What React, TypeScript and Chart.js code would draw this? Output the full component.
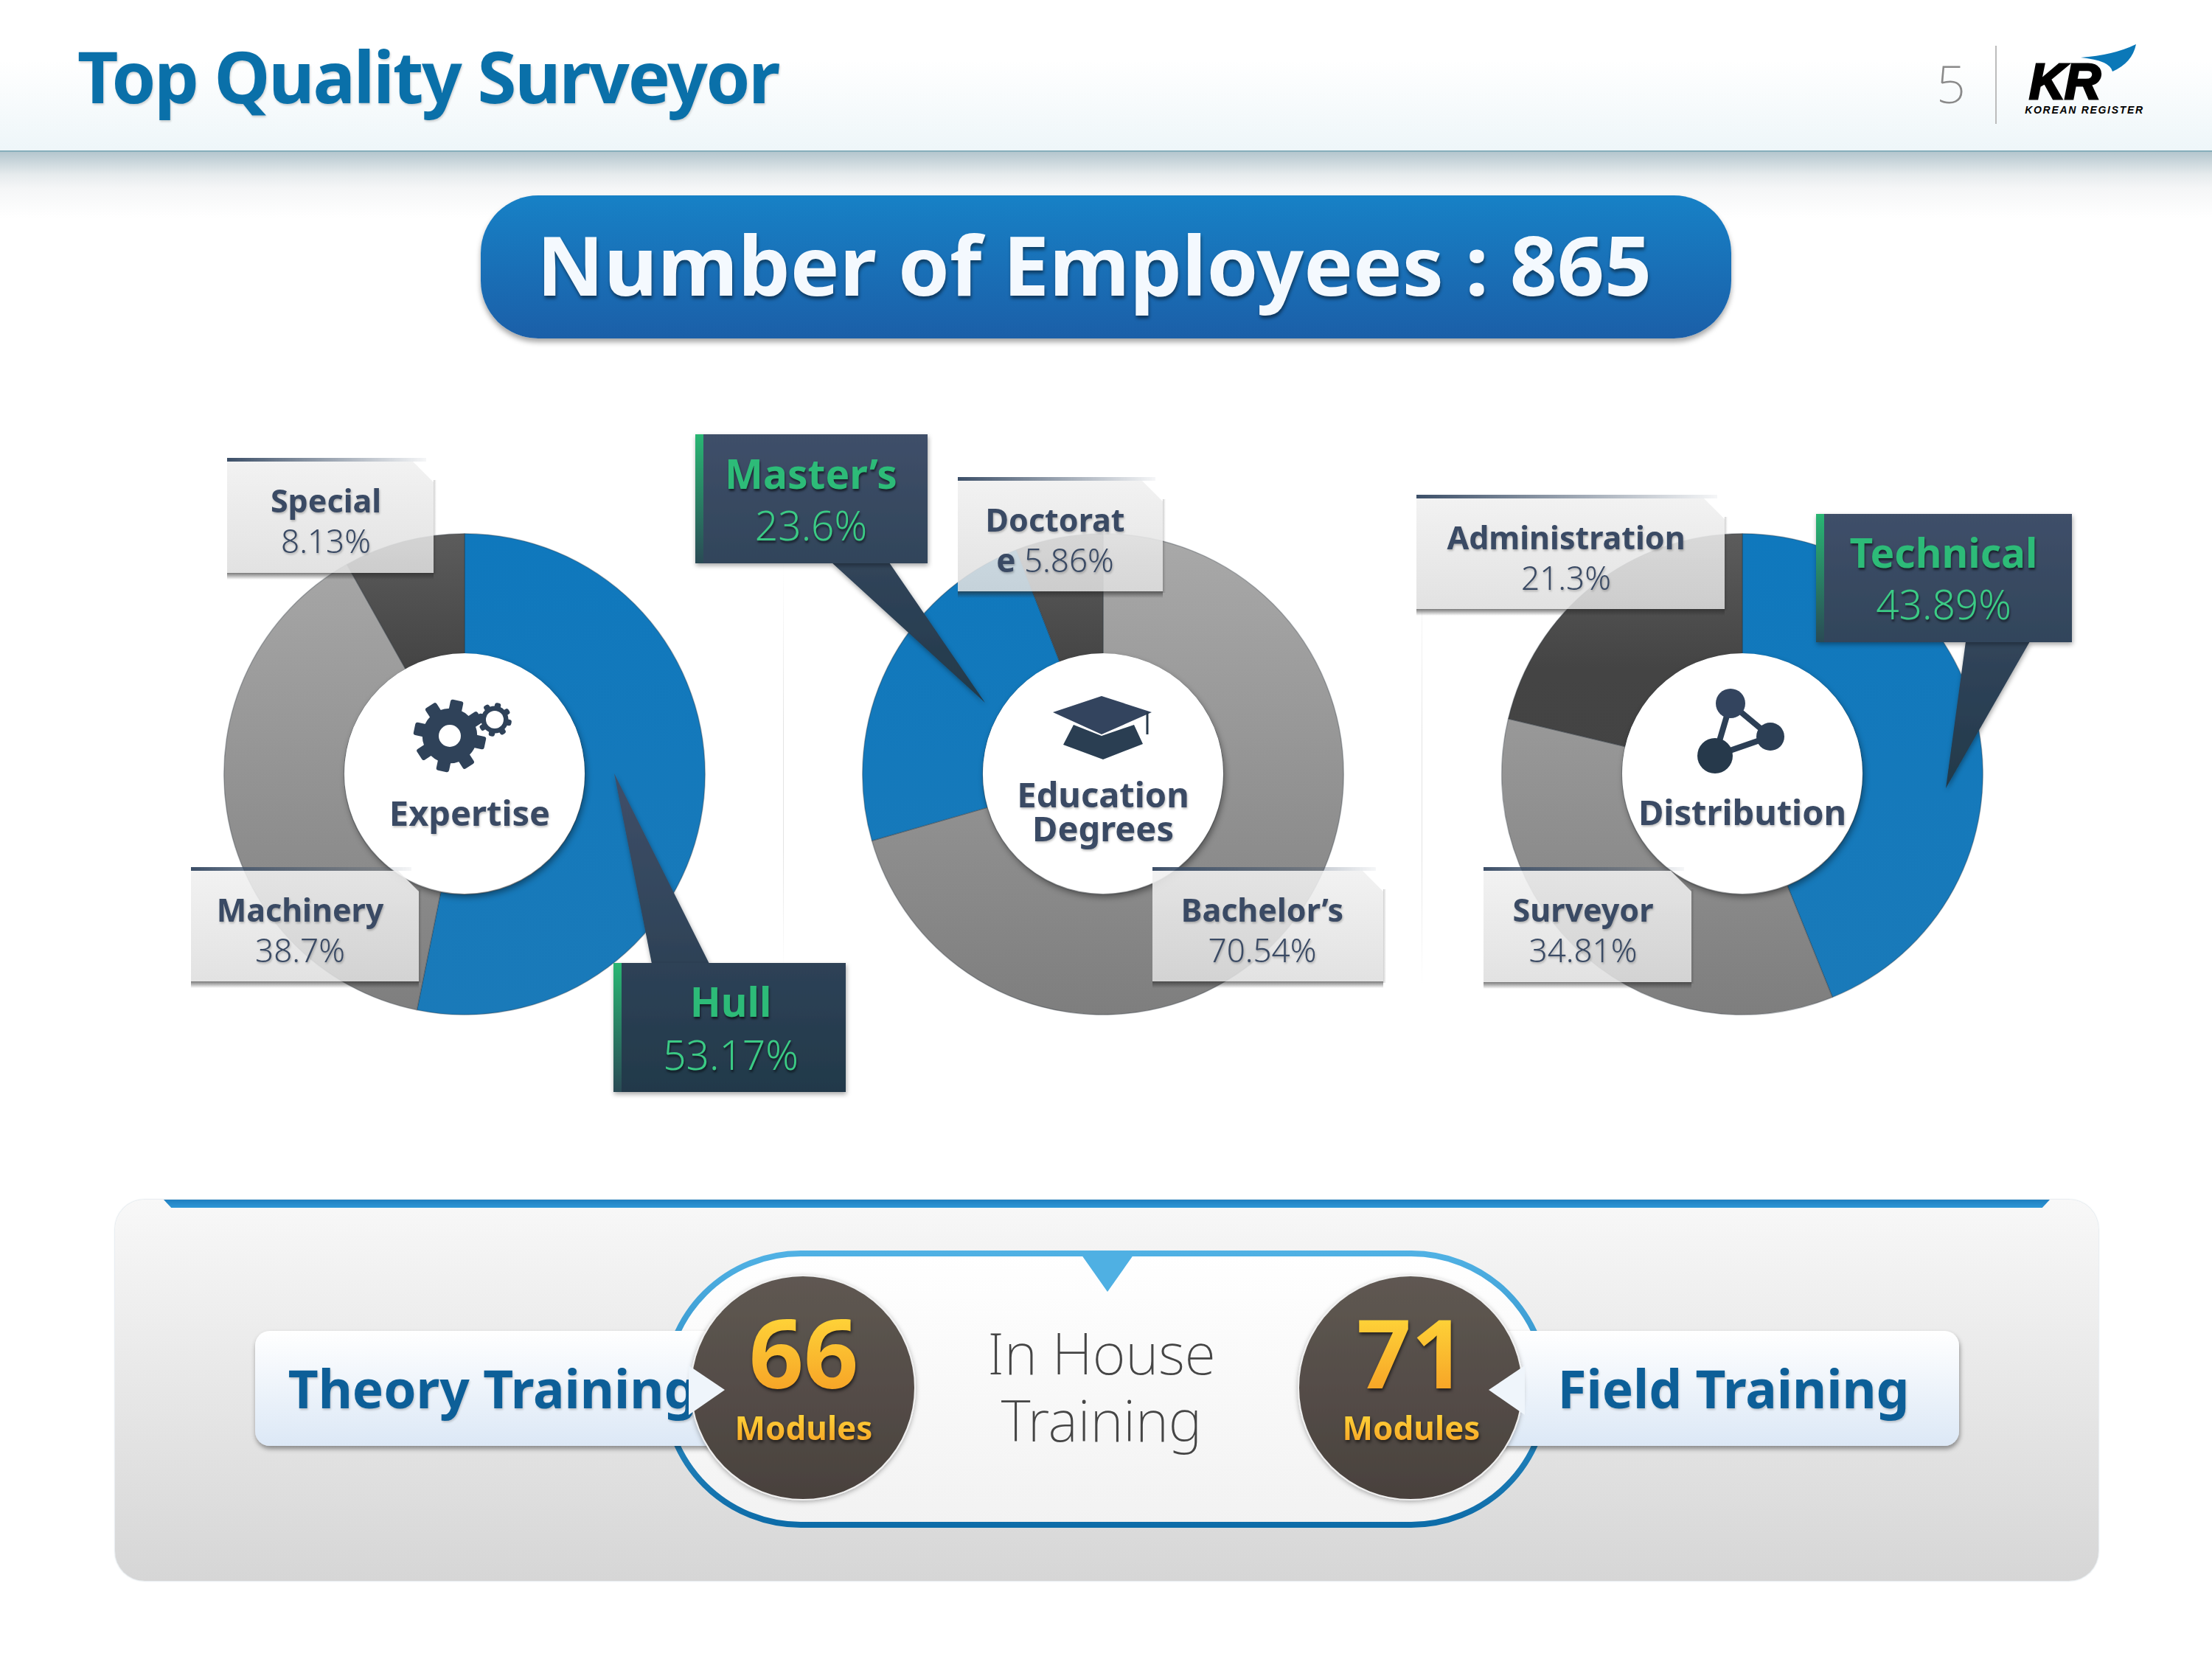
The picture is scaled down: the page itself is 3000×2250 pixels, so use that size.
import React, { useEffect, useRef } from "react";
import { Chart, registerables } from "chart.js";

Chart.register(...registerables);

const expertiseLabels = ["Hull", "Machinery", "Special"];
const expertiseValues = [53.17, 38.7, 8.13];
const educationLabels = ["Bachelor’s", "Master’s", "Doctorate"];
const educationValues = [70.54, 23.6, 5.86];
const distributionLabels = ["Technical", "Surveyor", "Administration"];
const distributionValues = [43.89, 34.81, 21.3];
const theoryModules = 66;
const fieldModules = 71;
const employees = 865;

const SANS = '"Noto Sans", "Open Sans", sans-serif';
const NAVY = "#3a4a64";
const GREEN = "#2dbb78";
const GREEN_LIGHT = "#3bcb85";

type Kind = "blue" | "grey" | "dark";

function Donut({ cx, cy, labels, values, kinds }: { cx: number; cy: number; labels: string[]; values: number[]; kinds: Kind[] }) {
  const ref = useRef<HTMLCanvasElement>(null);
  useEffect(() => {
    const canvas = ref.current!;
    const ctx = canvas.getContext("2d")!;
    const grad = (stops: [number, string][], h = 654) => {
      const g = ctx.createLinearGradient(0, 0, 0, h);
      stops.forEach(([o, c]) => g.addColorStop(o, c));
      return g;
    };
    const fills: Record<Kind, CanvasGradient> = {
      blue: grad([[0, "#0f78bd"], [1, "#1a7ab9"]]),
      grey: grad([[0, "#a9a9a9"], [1, "#7e7e7e"]]),
      dark: grad([[0, "#5c5c5c"], [0.28, "#444444"], [1, "#424242"]]),
    };
    const chart = new Chart(canvas, {
      type: "doughnut",
      data: {
        labels,
        datasets: [{
          data: values,
          backgroundColor: kinds.map((k) => fills[k]),
          borderColor: "rgba(40,50,60,0.32)",
          borderWidth: 1.5,
        }],
      },
      options: {
        responsive: false,
        animation: false,
        cutout: "50%",
        rotation: 0,
        layout: { padding: 0 },
        plugins: { legend: { display: false }, tooltip: { enabled: false } },
      },
    });
    return () => chart.destroy();
  }, []);
  return (
    <canvas ref={ref} width={654} height={654} style={{ position: "absolute", left: cx - 327, top: cy - 327, width: 654, height: 654 }} />
  );
}

function T({ x, y, size, weight = 400, color = NAVY, shadow, children, style }: any) {
  return (
    <div style={{
      position: "absolute", left: x, top: y, transform: "translate(-50%,-50%)",
      fontFamily: SANS, fontSize: size, fontWeight: weight, color, whiteSpace: "nowrap", lineHeight: 0.85,
      textShadow: shadow, ...style,
    }}>{children}</div>
  );
}

const lightShadow = "1px 2px 3px rgba(0,0,0,0.25)";
const greenShadow = "1px 3px 3px rgba(0,0,0,0.55)";

function GlassBox({ x0, y0, x1, y1 }: { x0: number; y0: number; x1: number; y1: number }) {
  const w = x1 - x0;
  const h = y1 - y0;
  return (
    <>
      <div style={{ position: "absolute", left: x0, top: y1, width: w, height: 9, background: "linear-gradient(rgba(40,40,40,0.62),rgba(40,40,40,0))" }} />
      <div style={{ position: "absolute", left: x1, top: y0 + 30, width: 4, height: h - 28, background: "linear-gradient(to right,rgba(40,40,40,0.22),rgba(40,40,40,0))" }} />
      <div style={{
        position: "absolute", left: x0, top: y0 + 5, width: w, height: h - 5,
        background: "linear-gradient(rgba(240,240,240,0.88),rgba(222,222,222,0.88))",
        clipPath: `polygon(0 0, ${w - 28}px 0, 100% 28px, 100% 100%, 0 100%)`,
      }} />
      <div style={{ position: "absolute", left: x0, top: y0, width: w - 10, height: 5, background: "linear-gradient(to right,#3c4f68,rgba(60,79,104,0.05))" }} />
    </>
  );
}

function Callout({ id, box, tail }: { id: string; box: [number, number, number, number]; tail: [number, number][] }) {
  const [x0, y0, x1, y1] = box;
  const ys = [y0, y1, ...tail.map((p) => p[1])];
  const top = Math.min(...ys);
  const bottom = Math.max(...ys);
  const gid = `grad-${id}`;
  const sid = `stripe-${id}`;
  return (
    <g>
      <defs>
        <linearGradient id={gid} gradientUnits="userSpaceOnUse" x1="0" x2="0" y1={top} y2={bottom}>
          <stop offset="0" stopColor="#3f4f69" />
          <stop offset="1" stopColor="#22394a" />
        </linearGradient>
        <linearGradient id={sid} gradientUnits="userSpaceOnUse" x1="0" x2="0" y1={y0} y2={y1}>
          <stop offset="0" stopColor="#29b673" />
          <stop offset="1" stopColor="#2a4a55" />
        </linearGradient>
      </defs>
      <polygon points={tail.map((p) => p.join(",")).join(" ")} fill={`url(#${gid})`} filter="url(#calloutShadow)" />
      <rect x={x0} y={y0} width={x1 - x0} height={y1 - y0} fill={`url(#${gid})`} filter="url(#calloutShadow)" />
      <rect x={x0} y={y0} width={11} height={y1 - y0} fill={`url(#${sid})`} />
    </g>
  );
}

function Gear({ cx, cy, r, hole, teeth, fill }: { cx: number; cy: number; r: number; hole: number; teeth: number; fill: string }) {
  const toothW = r * 0.36;
  const toothH = r * 0.28;
  return (
    <g>
      {Array.from({ length: teeth }, (_, i) => (
        <rect key={i} x={cx - toothW / 2} y={cy - r} width={toothW} height={toothH + 4} rx={3}
          fill={fill} transform={`rotate(${(360 / teeth) * i + 12} ${cx} ${cy})`} />
      ))}
      <circle cx={cx} cy={cy} r={r - toothH + 2} fill={fill} />
      <circle cx={cx} cy={cy} r={hole} fill="#fff" />
    </g>
  );
}

function GoldText({ x, y, size, children }: any) {
  return (
    <T x={x} y={y} size={size} weight={700} style={{
      background: "linear-gradient(#ffd83a,#f6a226)", WebkitBackgroundClip: "text", backgroundClip: "text",
      color: "transparent", filter: "drop-shadow(1px 3px 2px rgba(0,0,0,0.6))", lineHeight: 0.8, padding: "6px 0",
    }}>{children}</T>
  );
}

export default function App() {
  const circle = (cx: number, cy: number, r = 163) => (
    <div style={{
      position: "absolute", left: cx - r, top: cy - r, width: 2 * r, height: 2 * r, borderRadius: "50%",
      background: "#fff", boxShadow: "2px 5px 9px rgba(0,0,0,0.4)",
    }} />
  );
  const pct = (v: number) => `${v}%`;
  return (
    <div style={{ position: "absolute", left: 0, top: 0, width: 3000, height: 2250, overflow: "hidden", background: "#fff" }}>
      {/* header */}
      <div style={{ position: "absolute", left: 0, top: 0, width: 3000, height: 204, background: "linear-gradient(#ffffff 40%,#eef6f9)" }} />
      <div style={{ position: "absolute", left: 0, top: 204, width: 3000, height: 2, background: "#86aebb" }} />
      <div style={{ position: "absolute", left: 0, top: 206, width: 3000, height: 90, background: "linear-gradient(#b4c6ce,#e6ebed 34%,#f5f6f7 55%,#ffffff)" }} />
      <div style={{
        position: "absolute", left: 105, top: 103, transform: "translateY(-50%)", fontFamily: SANS, fontWeight: 700, fontSize: 96,
        letterSpacing: -2.2, color: "#0a70a9", lineHeight: 1, whiteSpace: "nowrap", textShadow: "1px 2px 3px rgba(0,0,0,0.18)",
      }}>Top Quality Surveyor</div>
      <T x={2646} y={114} size={70} weight={200} color="#8a8a8a">5</T>
      <div style={{ position: "absolute", left: 2706, top: 62, width: 2, height: 106, background: "#bcbcbc" }} />
      <T x={2800} y={111} size={68} weight={700} color="#000" style={{ fontFamily: '"Liberation Sans"', fontStyle: "italic", WebkitTextStroke: "3px #000", letterSpacing: -1 }}>KR</T>
      <T x={2827} y={150} size={14} weight={700} color="#000" style={{ fontFamily: '"Liberation Sans"', fontStyle: "italic", letterSpacing: 1.7 }}>KOREAN REGISTER</T>

      {/* banner */}
      <div style={{
        position: "absolute", left: 652, top: 265, width: 1696, height: 194, borderRadius: 78,
        background: "linear-gradient(#1781c6,#1b5fa8)", boxShadow: "0 5px 7px rgba(0,0,0,0.35)",
      }} />
      <T x={1484} y={358} size={112} weight={700} color="#f4f9fe" shadow="1px 4px 4px rgba(0,0,0,0.45)">{`Number of Employees : ${employees}`}</T>

      {/* separators */}
      <div style={{ position: "absolute", left: 1062, top: 760, width: 1, height: 560, background: "linear-gradient(rgba(210,210,210,0),#e4e4e4 40%,#e4e4e4 70%,rgba(210,210,210,0))" }} />
      <div style={{ position: "absolute", left: 1928, top: 760, width: 1, height: 580, background: "linear-gradient(rgba(210,210,210,0),#e4e4e4 40%,#e4e4e4 70%,rgba(210,210,210,0))" }} />

      {/* charts */}
      <Donut cx={630} cy={1050} labels={expertiseLabels} values={expertiseValues} kinds={["blue", "grey", "dark"]} />
      <Donut cx={1496} cy={1050} labels={educationLabels} values={educationValues} kinds={["grey", "blue", "dark"]} />
      <Donut cx={2363} cy={1050} labels={distributionLabels} values={distributionValues} kinds={["blue", "grey", "dark"]} />
      {circle(630, 1049)}
      {circle(1496, 1049)}
      {circle(2363, 1049)}

      {/* icons and overlay shapes */}
      <svg width={3000} height={2250} style={{ position: "absolute", left: 0, top: 0 }}>
        <defs>
          <filter id="calloutShadow" x="-10%" y="-10%" width="120%" height="120%">
            <feDropShadow dx="1" dy="3" stdDeviation="3" floodColor="#000" floodOpacity="0.35" />
          </filter>
        </defs>
        <Gear cx={610} cy={998} r={49} hole={15} teeth={8} fill="#2f4259" />
        <Gear cx={671} cy={976} r={23} hole={12} teeth={8} fill="#2f4259" />
        <polygon points="1428,966 1494,944 1562,966 1494,996" fill="#33445e" />
        <polygon points="1456,983 1442,1010 1496,1030 1550,1009 1538,983 1494,998" fill="#2a3e52" />
        <line x1="1556" y1="966" x2="1556" y2="996" stroke="#26384a" strokeWidth="3" />
        <g stroke="#2c3f55" strokeWidth="8">
          <line x1="2347" y1="954" x2="2401" y2="999" />
          <line x1="2401" y1="999" x2="2326" y2="1025" />
          <line x1="2326" y1="1025" x2="2347" y2="954" />
        </g>
        <circle cx="2347" cy="954" r="20" fill="#33445e" />
        <circle cx="2401" cy="999" r="19" fill="#2c3f55" />
        <circle cx="2326" cy="1025" r="24" fill="#26394b" />
        <path d="M2822 78 Q2866 75 2897 60 Q2892 85 2865 97 Q2862 82 2822 78 Z" fill="#0b78b8" />
        <Callout id="hull" box={[832, 1306, 1147, 1481]} tail={[[833, 1049], [884, 1307], [962, 1307]]} />
        <Callout id="masters" box={[943, 589, 1258, 764]} tail={[[1336, 953], [1128, 763], [1206, 763]]} />
        <Callout id="tech" box={[2463, 697, 2810, 871]} tail={[[2639, 1069], [2666, 870], [2753, 870]]} />
      </svg>

      <GlassBox x0={308} y0={621} x1={588} y1={777} />
      <GlassBox x0={259} y0={1176} x1={568} y1={1331} />
      <GlassBox x0={1299} y0={647} x1={1577} y1={802} />
      <GlassBox x0={1563} y0={1176} x1={1876} y1={1331} />
      <GlassBox x0={1921} y0={671} x1={2339} y1={826} />
      <GlassBox x0={2012} y0={1176} x1={2294} y1={1332} />

      <T x={637} y={1103} size={47} weight={700} shadow={lightShadow}>Expertise</T>
      <T x={1496} y={1078} size={47} weight={700} shadow={lightShadow}>Education</T>
      <T x={1496} y={1124} size={47} weight={700} shadow={lightShadow}>Degrees</T>
      <T x={2363} y={1102} size={47} weight={700} shadow={lightShadow}>Distribution</T>

      <T x={442} y={679} size={43} weight={700} shadow={lightShadow}>{expertiseLabels[2]}</T>
      <T x={442} y={734} size={44} weight={300} shadow={lightShadow}>{pct(expertiseValues[2])}</T>
      <T x={407} y={1234} size={43} weight={700} shadow={lightShadow}>{expertiseLabels[1]}</T>
      <T x={407} y={1289} size={44} weight={300} shadow={lightShadow}>{pct(expertiseValues[1])}</T>
      <T x={991} y={1358} size={55} weight={700} color={GREEN} shadow={greenShadow}>{expertiseLabels[0]}</T>
      <T x={991} y={1430} size={55} weight={300} color={GREEN_LIGHT} shadow={greenShadow}>{pct(expertiseValues[0])}</T>

      <T x={1100} y={642} size={55} weight={700} color={GREEN} shadow={greenShadow}>{educationLabels[1]}</T>
      <T x={1100} y={712} size={55} weight={300} color={GREEN_LIGHT} shadow={greenShadow}>{pct(educationValues[1])}</T>
      <T x={1431} y={705} size={43} weight={700} shadow={lightShadow}>{educationLabels[2].slice(0, -1)}</T>
      <T x={1431} y={760} size={44} weight={300} shadow={lightShadow}><b style={{ fontWeight: 700 }}>{educationLabels[2].slice(-1)}</b> {pct(educationValues[2])}</T>
      <T x={1712} y={1234} size={43} weight={700} shadow={lightShadow}>{educationLabels[0]}</T>
      <T x={1712} y={1289} size={44} weight={300} shadow={lightShadow}>{pct(educationValues[0])}</T>

      <T x={2124} y={729} size={43} weight={700} shadow={lightShadow}>{distributionLabels[2]}</T>
      <T x={2124} y={784} size={44} weight={300} shadow={lightShadow}>{pct(distributionValues[2])}</T>
      <T x={2636} y={749} size={55} weight={700} color={GREEN} shadow={greenShadow}>{distributionLabels[0]}</T>
      <T x={2636} y={819} size={55} weight={300} color={GREEN_LIGHT} shadow={greenShadow}>{pct(distributionValues[0])}</T>
      <T x={2147} y={1234} size={43} weight={700} shadow={lightShadow}>{distributionLabels[1]}</T>
      <T x={2147} y={1289} size={44} weight={300} shadow={lightShadow}>{pct(distributionValues[1])}</T>

      {/* bottom panel */}
      <div style={{
        position: "absolute", left: 156, top: 1627, width: 2690, height: 517, borderRadius: 40,
        background: "linear-gradient(#f8f8f8,#d6d6d6)", boxShadow: "0 0 2px rgba(120,150,170,0.6)",
      }} />
      <div style={{
        position: "absolute", left: 222, top: 1627, width: 2558, height: 11,
        background: "linear-gradient(#1f7fc0,#2e97d6)", clipPath: "polygon(0 0,100% 0,99.6% 100%,0.4% 100%)",
      }} />
      <svg width={3000} height={2250} style={{ position: "absolute", left: 0, top: 0 }}>
        <defs>
          <linearGradient id="pillStroke" x1="0" x2="0" y1="0" y2="1">
            <stop offset="0" stopColor="#50b1e4" />
            <stop offset="1" stopColor="#0d6ca8" />
          </linearGradient>
          <linearGradient id="pillFill" x1="0" x2="0" y1="0" y2="1">
            <stop offset="0" stopColor="#ffffff" />
            <stop offset="1" stopColor="#f2f2f2" />
          </linearGradient>
          <linearGradient id="boxFill" x1="0" x2="0" y1="0" y2="1">
            <stop offset="0" stopColor="#ffffff" />
            <stop offset="1" stopColor="#dce8f6" />
          </linearGradient>
          <linearGradient id="ballFill" x1="0" x2="0" y1="0" y2="1">
            <stop offset="0" stopColor="#5f5852" />
            <stop offset="1" stopColor="#49413d" />
          </linearGradient>
          <filter id="softShadow" x="-5%" y="-10%" width="110%" height="125%">
            <feDropShadow dx="1" dy="4" stdDeviation="3" floodColor="#000" floodOpacity="0.4" />
          </filter>
          <filter id="ballShadow" x="-10%" y="-10%" width="120%" height="120%">
            <feDropShadow dx="0" dy="2" stdDeviation="3" floodColor="#000" floodOpacity="0.3" />
          </filter>
        </defs>
        <rect x="902" y="1700" width="1196" height="368" rx="184" fill="url(#pillFill)" stroke="url(#pillStroke)" strokeWidth="8" />
        <polygon points="1464,1698 1540,1698 1502,1752" fill="#4fb0e3" />
        <rect x="346" y="1805" width="660" height="156" rx="20" fill="url(#boxFill)" filter="url(#softShadow)" />
        <rect x="2000" y="1805" width="657" height="156" rx="20" fill="url(#boxFill)" filter="url(#softShadow)" />
      </svg>
      <T x={668} y={1883} size={71} weight={700} color="#0d5f98" shadow="1px 2px 3px rgba(0,0,0,0.2)">Theory Training</T>
      <T x={2351} y={1883} size={71} weight={700} color="#0d5f98" shadow="1px 2px 3px rgba(0,0,0,0.2)">Field Training</T>
      <svg width={3000} height={2250} style={{ position: "absolute", left: 0, top: 0 }}>
        <circle cx="1089" cy="1882" r="152" fill="url(#ballFill)" stroke="#f0f0f0" strokeWidth="2" filter="url(#ballShadow)" />
        <circle cx="1913" cy="1882" r="152" fill="url(#ballFill)" stroke="#f0f0f0" strokeWidth="2" filter="url(#ballShadow)" />
        <polygon points="934,1852 983,1885 934,1919" fill="#eff5fb" />
        <polygon points="2068,1852 2019,1885 2068,1919" fill="#eff5fb" />
      </svg>
      <GoldText x={1090} y={1833} size={130}>{theoryModules}</GoldText>
      <GoldText x={1914} y={1833} size={130}>{fieldModules}</GoldText>
      <GoldText x={1090} y={1937} size={44}>Modules</GoldText>
      <GoldText x={1914} y={1937} size={44}>Modules</GoldText>
      <T x={1494} y={1835} size={77} weight={200} color="#454545">In House</T>
      <T x={1494} y={1926} size={77} weight={200} color="#454545">Training</T>
    </div>
  );
}
